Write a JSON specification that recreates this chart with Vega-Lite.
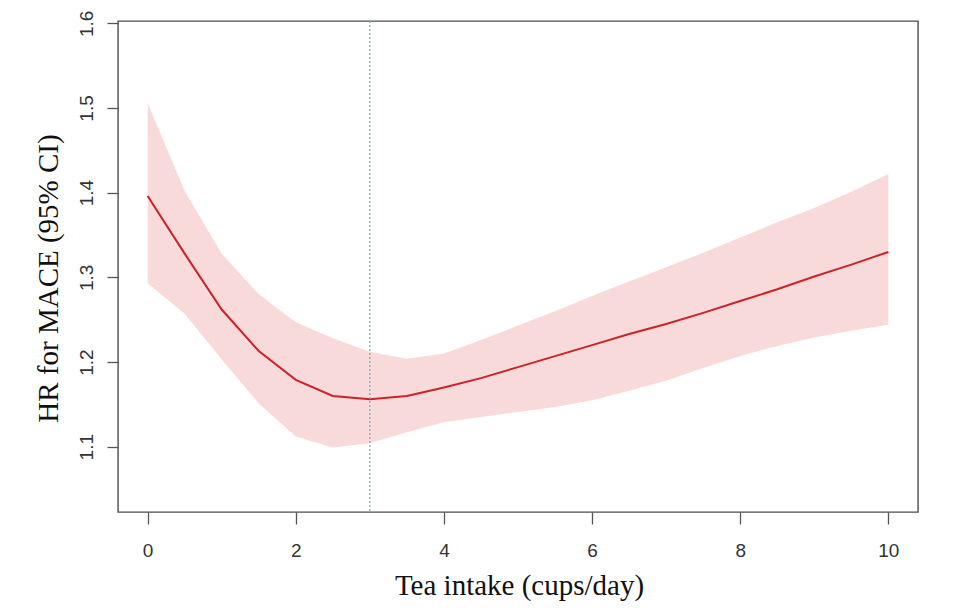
{
  "$schema": "https://vega.github.io/schema/vega-lite/v6.json",
  "width": 800,
  "height": 491,
  "autosize": "none",
  "padding": {"left": 118, "top": 21, "right": 42, "bottom": 104},
  "background": "white",
  "config": {
    "view": {"stroke": "#4d4d4d", "strokeWidth": 1.4},
    "axis": {"grid": false, "domain": false}
  },
  "data": {
    "values": [
      {"intake": 0, "hr": 1.396, "lower": 1.293, "upper": 1.506},
      {"intake": 0.5, "hr": 1.328, "lower": 1.257, "upper": 1.402},
      {"intake": 1, "hr": 1.262, "lower": 1.203, "upper": 1.328},
      {"intake": 1.5, "hr": 1.213, "lower": 1.151, "upper": 1.28},
      {"intake": 2, "hr": 1.179, "lower": 1.112, "upper": 1.247},
      {"intake": 2.5, "hr": 1.16, "lower": 1.099, "upper": 1.228},
      {"intake": 3, "hr": 1.156, "lower": 1.104, "upper": 1.212},
      {"intake": 3.5, "hr": 1.16, "lower": 1.117, "upper": 1.204},
      {"intake": 4, "hr": 1.17, "lower": 1.129, "upper": 1.21},
      {"intake": 4.5, "hr": 1.181, "lower": 1.135, "upper": 1.226},
      {"intake": 5, "hr": 1.194, "lower": 1.141, "upper": 1.243},
      {"intake": 5.5, "hr": 1.207, "lower": 1.147, "upper": 1.26},
      {"intake": 6, "hr": 1.22, "lower": 1.155, "upper": 1.278},
      {"intake": 6.5, "hr": 1.233, "lower": 1.166, "upper": 1.295},
      {"intake": 7, "hr": 1.245, "lower": 1.178, "upper": 1.312},
      {"intake": 7.5, "hr": 1.258, "lower": 1.193, "upper": 1.329},
      {"intake": 8, "hr": 1.272, "lower": 1.207, "upper": 1.347},
      {"intake": 8.5, "hr": 1.286, "lower": 1.219, "upper": 1.365},
      {"intake": 9, "hr": 1.301, "lower": 1.229, "upper": 1.382},
      {"intake": 9.5, "hr": 1.315, "lower": 1.237, "upper": 1.401},
      {"intake": 10, "hr": 1.33, "lower": 1.244, "upper": 1.422}
    ]
  },
  "layer": [
    {
      "mark": {"type": "area", "color": "#f9dadb", "opacity": 1},
      "encoding": {
        "x": {
          "field": "intake", "type": "quantitative",
          "scale": {"domain": [-0.4, 10.4], "nice": false, "zero": false},
          "axis": {
            "title": "Tea intake (cups/day)",
            "values": [0, 2, 4, 6, 8, 10],
            "format": "d",
            "tickSize": 12, "tickWidth": 1.3, "tickColor": "#555555",
            "labelFont": "Liberation Sans", "labelFontSize": 19, "labelColor": "#333333",
            "labelPadding": 17,
            "titleFont": "Liberation Serif", "titleFontSize": 29, "titleFontWeight": "normal", "titleColor": "#111111",
            "titleX": 401, "titleY": 82, "titleBaseline": "alphabetic", "titleAlign": "center"
          }
        },
        "y": {
          "field": "lower", "type": "quantitative",
          "scale": {"domain": [1.0229, 1.6027], "nice": false, "zero": false},
          "axis": {
            "title": "HR for MACE (95% CI)",
            "values": [1.1, 1.2, 1.3, 1.4, 1.5, 1.6],
            "format": ".1f",
            "tickSize": 11, "tickWidth": 1.3, "tickColor": "#555555",
            "labelFont": "Liberation Sans", "labelFontSize": 19, "labelColor": "#333333",
            "labelAngle": -90, "labelAlign": "center", "labelBaseline": "alphabetic",
            "labelPadding": 15,
            "titleFont": "Liberation Serif", "titleFontSize": 29, "titleFontWeight": "normal", "titleColor": "#111111",
            "titleAngle": -90, "titleX": -61, "titleY": 257, "titleBaseline": "alphabetic", "titleAlign": "center"
          }
        },
        "y2": {"field": "upper"}
      }
    },
    {
      "mark": {"type": "line", "color": "#cc2229", "strokeWidth": 2},
      "encoding": {
        "x": {"field": "intake", "type": "quantitative"},
        "y": {"field": "hr", "type": "quantitative"}
      }
    },
    {
      "data": {"values": [{"ref": 3}]},
      "mark": {"type": "rule", "color": "#6fa6bb", "strokeWidth": 1.2, "strokeDash": [2, 2]},
      "encoding": {
        "x": {"field": "ref", "type": "quantitative"}
      }
    }
  ]
}
